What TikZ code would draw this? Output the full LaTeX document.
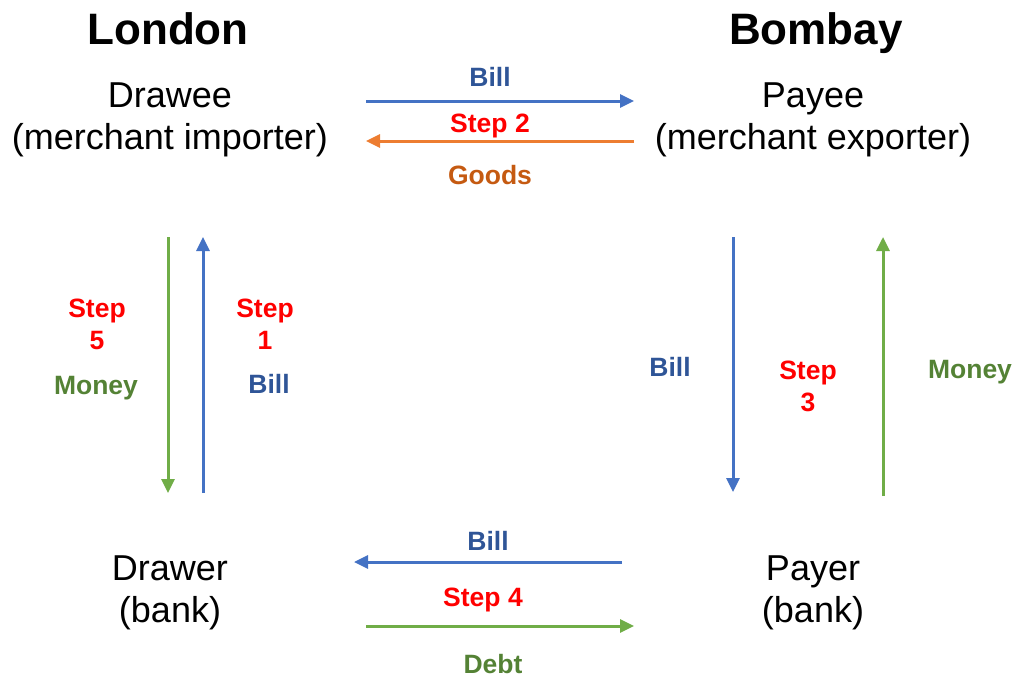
\documentclass[tikz,border=0pt]{standalone}
\usepackage{fontspec}
\setmainfont{Liberation Sans}
\usetikzlibrary{arrows.meta}
\definecolor{ablue}{HTML}{4472C4}
\definecolor{aorange}{HTML}{ED7D31}
\definecolor{agreen}{HTML}{70AD47}
\definecolor{tblue}{HTML}{2F5597}
\definecolor{torange}{HTML}{C55A11}
\definecolor{tgreen}{HTML}{548235}
\definecolor{tred}{HTML}{FF0000}
\tikzset{
  title/.style={font=\fontsize{44}{50}\selectfont\bfseries,anchor=base},
  party/.style={align=center,font=\fontsize{36}{42}\selectfont},
  lab/.style={align=center,font=\fontsize{26.5}{32}\selectfont\bfseries},
  flow/.style={line width=3pt,-{Triangle[length=14pt,width=13pt]}},
}
\begin{document}
\begin{tikzpicture}[x=1pt,y=-1pt]
\useasboundingbox (0,0) rectangle (1019,677);
% titles
\node[title] (lon) at (168,45) {London};
\node[title] (bom) at (816,45) {Bombay};
% parties
\node[party] (drawee) at (170,120) {Drawee\\(merchant importer)};
\node[party] (payee) at (813,120) {Payee\\(merchant exporter)};
\node[party] (drawer) at (170,593) {Drawer\\(bank)};
\node[party] (payer) at (813,593) {Payer\\(bank)};
% coordinates
\coordinate (t1a) at (366,101); \coordinate (t1b) at (634,101);
\coordinate (t2a) at (634,141); \coordinate (t2b) at (366,141);
\coordinate (l1a) at (168,237); \coordinate (l1b) at (168,493);
\coordinate (l2a) at (203,493); \coordinate (l2b) at (203,237);
\coordinate (r1a) at (733,237); \coordinate (r1b) at (733,492);
\coordinate (r2a) at (883,496); \coordinate (r2b) at (883,237);
\coordinate (b1a) at (622,562); \coordinate (b1b) at (354,562);
\coordinate (b2a) at (366,626); \coordinate (b2b) at (634,626);
% arrows
\draw[flow,ablue] (t1a) -- (t1b);
\draw[flow,aorange] (t2a) -- (t2b);
\draw[flow,agreen] (l1a) -- (l1b);
\draw[flow,ablue] (l2a) -- (l2b);
\draw[flow,ablue] (r1a) -- (r1b);
\draw[flow,agreen] (r2a) -- (r2b);
\draw[flow,ablue] (b1a) -- (b1b);
\draw[flow,agreen] (b2a) -- (b2b);
% labels
\node[lab,tblue] (lbill1) at (490,77) {Bill};
\node[lab,tred] (lstep2) at (490,126) {Step 2};
\node[lab,torange] (lgoods) at (490,175) {Goods};
\node[lab,tred] (lstep5) at (97,324) {Step\\5};
\node[lab,tgreen] (lmoney1) at (96,388) {Money};
\node[lab,tred] (lstep1) at (265,324) {Step\\1};
\node[lab,tblue] (lbill2) at (269,384) {Bill};
\node[lab,tblue] (lbill3) at (670,367) {Bill};
\node[lab,tred] (lstep3) at (808,386) {Step\\3};
\node[lab,tgreen] (lmoney2) at (970,372) {Money};
\node[lab,tblue] (lbill4) at (488,541) {Bill};
\node[lab,tred] (lstep4) at (483,600) {Step 4};
\node[lab,tgreen] (ldebt) at (493,664) {Debt};
\end{tikzpicture}
\end{document}
